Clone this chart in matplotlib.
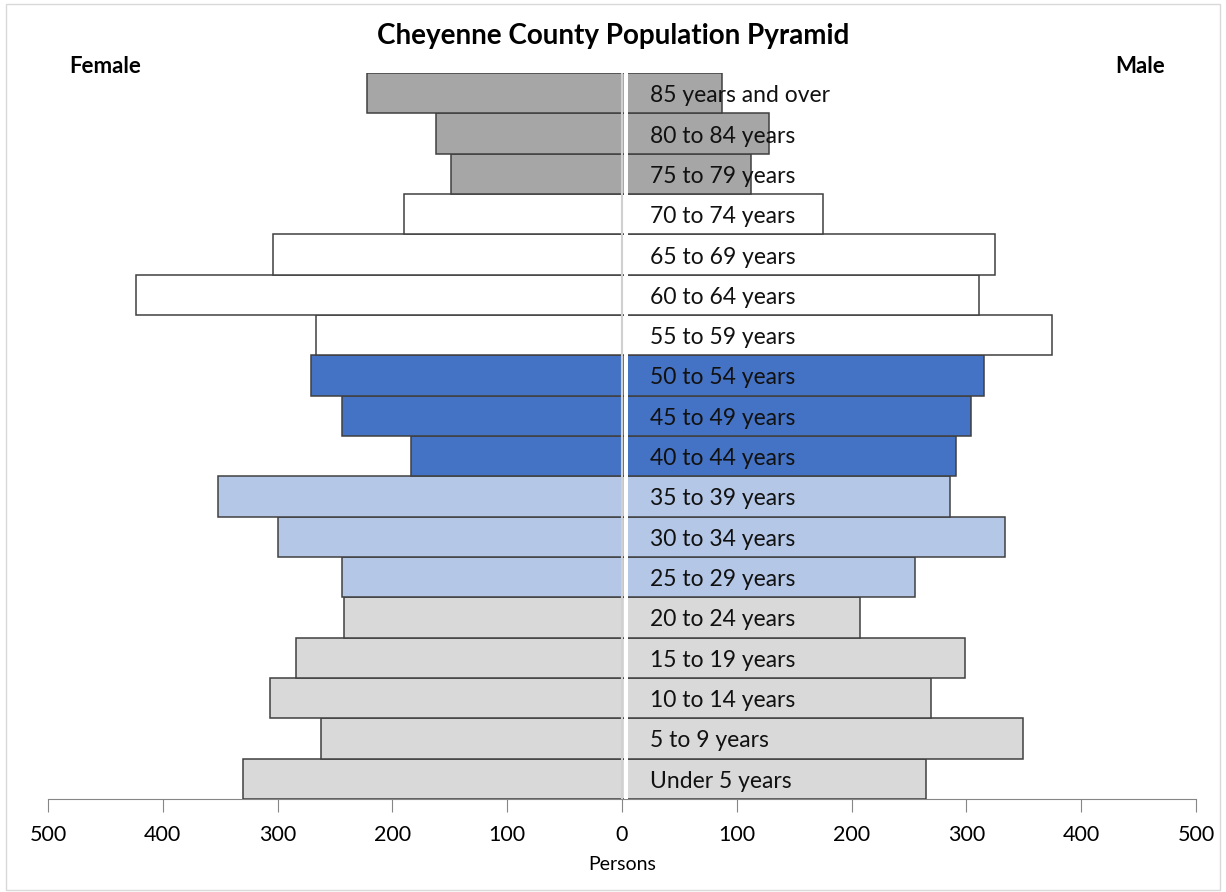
import numpy as np
import matplotlib.pyplot as plt
from matplotlib.patches import Rectangle

# Age groups, bottom to top
age_groups = ['Under 5 years', '5 to 9 years', '10 to 14 years', '15 to 19 years',
              '20 to 24 years', '25 to 29 years', '30 to 34 years', '35 to 39 years',
              '40 to 44 years', '45 to 49 years', '50 to 54 years', '55 to 59 years',
              '60 to 64 years', '65 to 69 years', '70 to 74 years', '75 to 79 years',
              '80 to 84 years', '85 years and over']

female = [330, 262, 307, 284, 242, 244, 300, 352, 184, 244, 271, 267, 423, 304, 190, 149, 162, 222]
male = [265, 349, 269, 299, 207, 255, 334, 286, 291, 304, 315, 375, 311, 325, 175, 112, 128, 87]

# colour group for each age band
groups = ['young'] * 5 + ['adult'] * 3 + ['mid'] * 3 + ['older'] * 4 + ['old'] * 3
group_colors = {'young': '#D9D9D9', 'adult': '#B4C7E7', 'mid': '#4472C4',
                'older': '#FFFFFF', 'old': '#A6A6A6'}
colors = [group_colors[g] for g in groups]

tick_values = [-500, -400, -300, -200, -100, 0, 100, 200, 300, 400, 500]
tick_labels = ['500', '400', '300', '200', '100', '0', '100', '200', '300', '400', '500']

font = 'Lato'

fig = plt.figure(figsize=(12.26, 8.92), dpi=100)
ax = fig.add_axes([0.0392, 0.1043, 0.9363, 0.8137])

y = np.arange(len(age_groups))
ax.barh(y, [-v for v in female], height=1.0, color=colors, edgecolor='#404040', linewidth=1.1, zorder=2)
ax.barh(y, male, height=1.0, color=colors, edgecolor='#404040', linewidth=1.1, zorder=2)

# small white gap in the middle with a faint line at zero
ax.axvspan(1.5, 5.5, color='white', zorder=3, lw=0)
ax.axvline(0, color='#D0D0D0', lw=1.5, zorder=4)

# age labels sit just right of the centre line
for i, lab in enumerate(age_groups):
    ax.text(24, i - 0.06, lab, va='center', ha='left', fontsize=16.5, family=font,
            color='#111111', zorder=5)

ax.set_xlim(-500, 500)
ax.set_ylim(-0.5, len(age_groups) - 0.5)
ax.set_xticks(tick_values)
ax.set_xticklabels(tick_labels, fontsize=15.5, family=font)
ax.set_yticks([])
for s in ['top', 'right', 'left']:
    ax.spines[s].set_visible(False)
ax.spines['bottom'].set_color('#868686')
ax.spines['bottom'].set_zorder(1)
ax.tick_params(axis='x', length=9, color='#868686', pad=10)
ax.set_xlabel('Persons', fontsize=14, family=font, labelpad=8)

fig.text(0.5, 0.96, 'Cheyenne County Population Pyramid', ha='center', va='center',
         fontsize=20, fontweight='bold', family=font)
fig.text(0.086, 0.925, 'Female', ha='center', va='center', fontsize=16, fontweight='bold',
         family=font)
fig.text(0.93, 0.925, 'Male', ha='center', va='center', fontsize=16, fontweight='bold',
         family=font)

# light frame round the whole chart
fig.patches.append(Rectangle((0.005, 0.002), 0.99, 0.993, transform=fig.transFigure,
                             fill=False, edgecolor='#D9D9D9', lw=1))

fig.savefig('out.png', dpi=100)
